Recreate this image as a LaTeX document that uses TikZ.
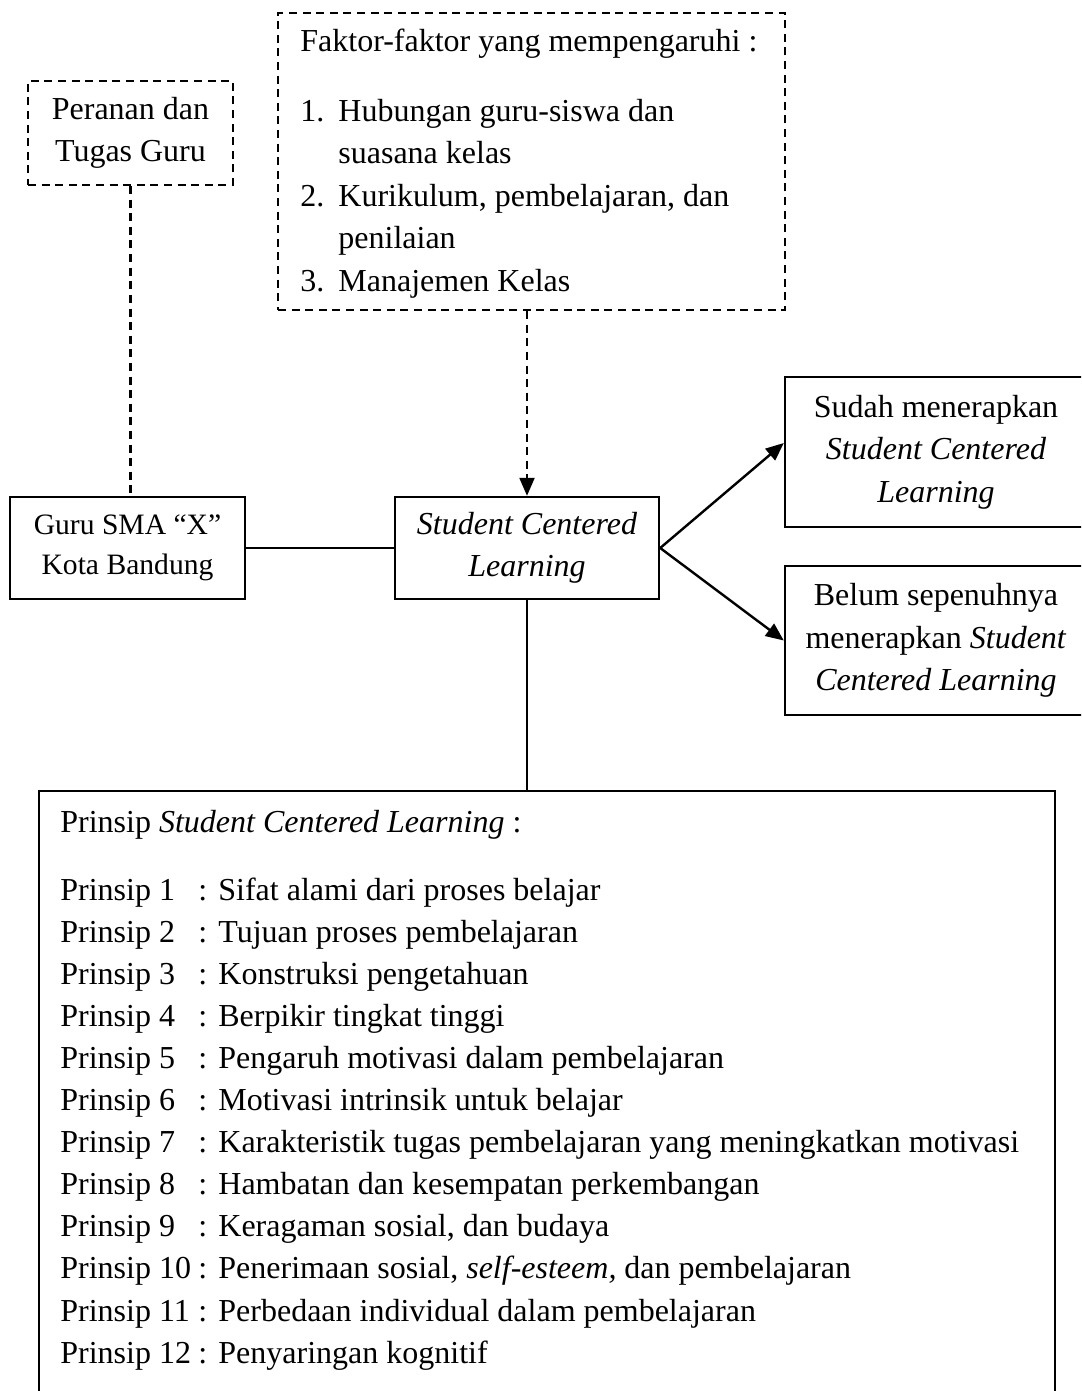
\documentclass[tikz,border=0pt]{standalone}
\usepackage{fontspec}
\setmainfont{Liberation Serif}
\usetikzlibrary{arrows.meta,calc}
\begin{document}
\begin{tikzpicture}[x=0.5pt,y=-0.5pt,
  solidbox/.style={draw,line width=1.2pt,inner sep=0pt,align=center},
  dashbox/.style={draw,line width=1.1pt,dash pattern=on 4pt off 2.8pt,inner sep=0pt,align=center},
  txt/.style={font=\fontsize{16}{21.2}\selectfont},
  smalltxt/.style={font=\fontsize{14.8}{19.8}\selectfont},
  lbl/.style={anchor=base west,inner sep=0pt,font=\fontsize{16}{21.2}\selectfont},
  conn/.style={line width=1.2pt},
  dconn/.style={line width=1.1pt,dash pattern=on 4pt off 2.8pt},
  tip/.style={-{Triangle[length=9pt,width=7.5pt]}}
]
\useasboundingbox (0,0) rectangle (1081,1391);
\clip (0,0) rectangle (1081,1391);

% boxes
\node[dashbox,txt,minimum width=102.5pt,minimum height=52pt] (per) at (130.5,133) {Peranan dan\\Tugas Guru};
\node[dashbox,minimum width=253.5pt,minimum height=148.5pt] (fak) at (531.5,161.5) {};
\node[solidbox,smalltxt,minimum width=117.5pt,minimum height=51pt] (guru) at (127.5,548) {Guru SMA “X”\\Kota Bandung};
\node[solidbox,txt,minimum width=132pt,minimum height=51pt] (scl) at (527,548) {\textit{Student Centered}\\\textit{Learning}};
\node[solidbox,txt,minimum width=151pt,minimum height=75pt] (sud) at (936,452) {Sudah menerapkan\\\textit{Student Centered}\\\textit{Learning}};
\node[solidbox,txt,minimum width=151pt,minimum height=74.5pt] (bel) at (936,640.5) {Belum sepenuhnya\\menerapkan \textit{Student}\\\textit{Centered Learning}};
\node[solidbox,minimum width=508pt,minimum height=330pt] (pri) at (547,1121) {};

% Faktor text
\node[lbl] (f0) at (300,52) {Faktor-faktor yang mempengaruhi :};
\node[lbl] (f1n) at (300,122) {1.};
\node[lbl] (f1) at (338,122) {Hubungan guru-siswa dan};
\node[lbl] (f1b) at (338,164) {suasana kelas};
\node[lbl] (f2n) at (300,207) {2.};
\node[lbl] (f2) at (338,207) {Kurikulum, pembelajaran, dan};
\node[lbl] (f2b) at (338,249) {penilaian};
\node[lbl] (f3n) at (300,292) {3.};
\node[lbl] (f3) at (338,292) {Manajemen Kelas};

% Prinsip text
\node[lbl] (ph) at (60,832) {Prinsip \textit{Student Centered Learning} :};
\foreach \t [count=\i] in {
  {Sifat alami dari proses belajar},
  {Tujuan proses pembelajaran},
  {Konstruksi pengetahuan},
  {Berpikir tingkat tinggi},
  {Pengaruh motivasi dalam pembelajaran},
  {Motivasi intrinsik untuk belajar},
  {Karakteristik tugas pembelajaran yang meningkatkan motivasi},
  {Hambatan dan kesempatan perkembangan},
  {Keragaman sosial, dan budaya},
  {Penerimaan sosial, \textit{self-esteem,} dan pembelajaran},
  {Perbedaan individual dalam pembelajaran},
  {Penyaringan kognitif}} {
  \pgfmathsetmacro\yy{900+(\i-1)*42.1}
  \node[lbl] (pn\i) at (60,\yy) {Prinsip \i};
  \node[lbl] (pc\i) at (198,\yy) {:};
  \node[lbl] (pt\i) at (218,\yy) {\t};
}

% connectors
\draw[dconn] (per.south) -- (per.south |- guru.north);
\draw[dconn,tip] (scl.north |- fak.south) -- (scl.north);
\draw[conn] (guru.east) -- (scl.west);
\draw[conn,tip] (scl.east) -- ($(sud.west)+(0,-9)$);
\draw[conn,tip] (scl.east) -- (bel.west);
\draw[conn] (scl.south) -- (scl.south |- pri.north);
\end{tikzpicture}
\end{document}
